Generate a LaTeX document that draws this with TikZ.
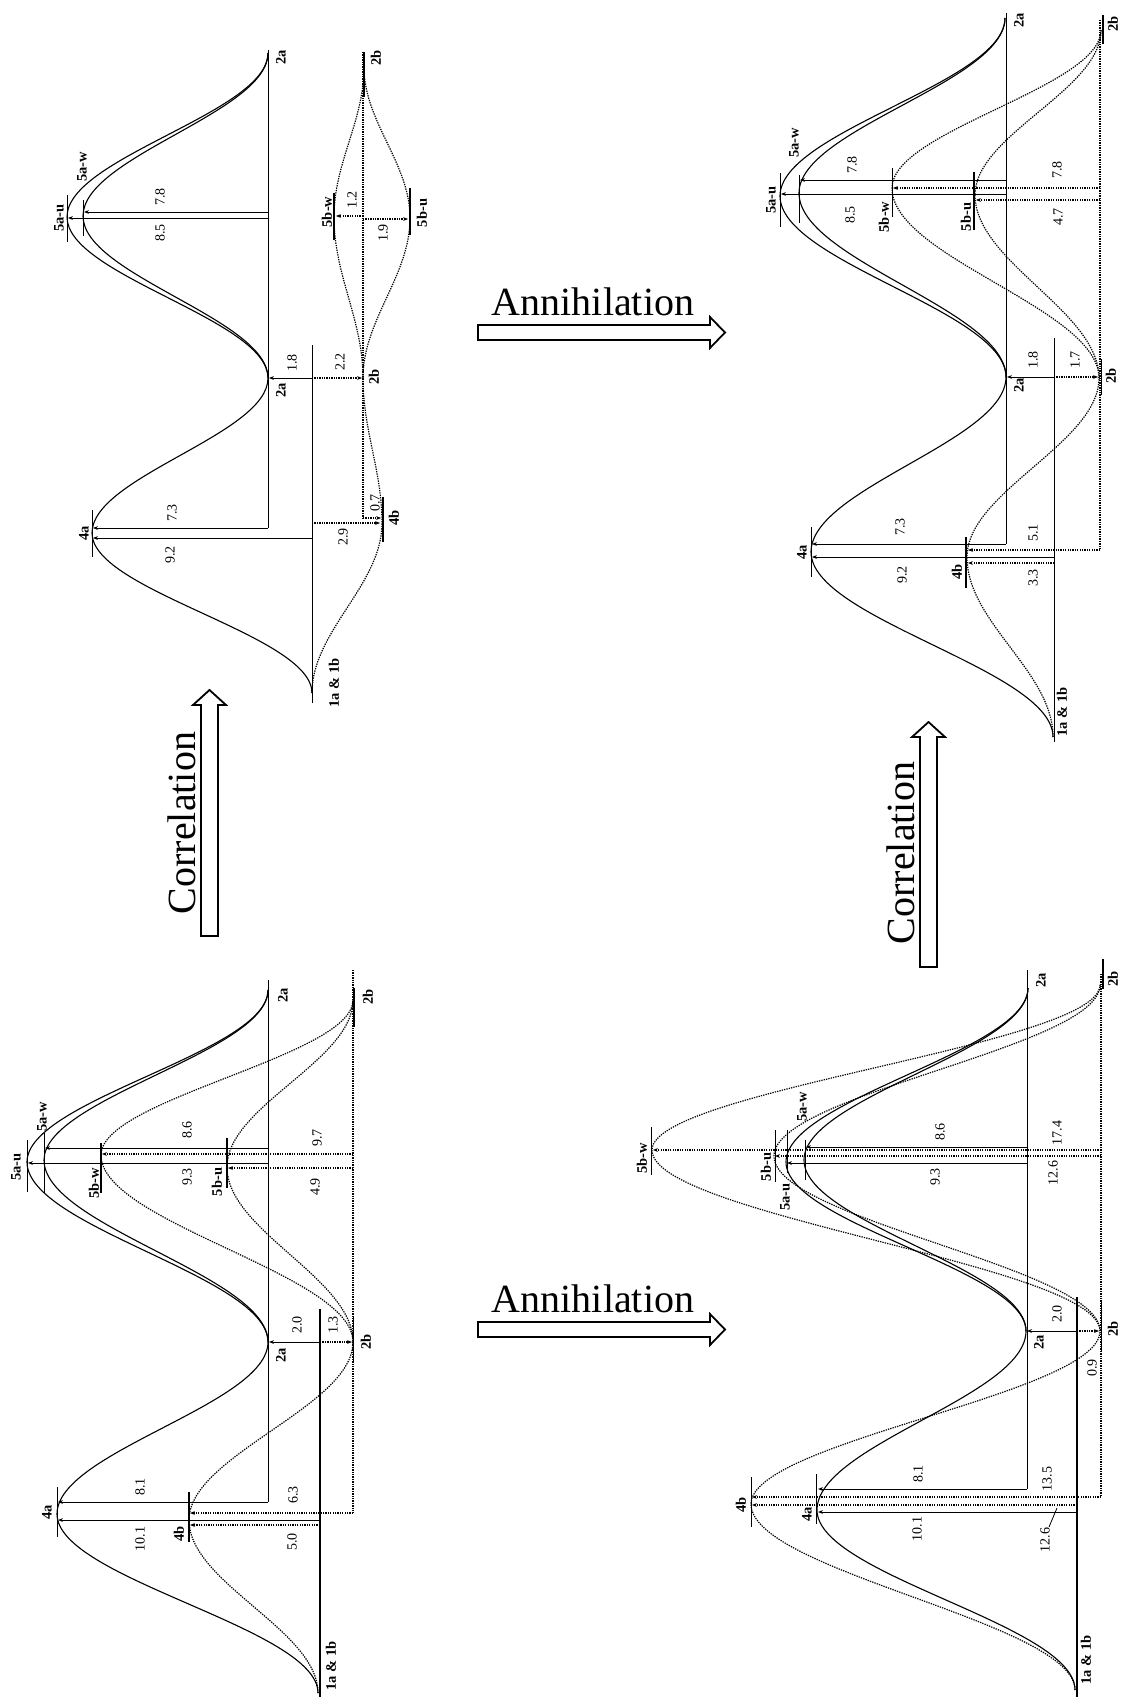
\documentclass[tikz,border=0pt]{standalone}
\usepackage{fontspec}
\setmainfont{Liberation Serif}
\usetikzlibrary{calc,arrows.meta}

\tikzset{
  % half-cosine step between two stationary points (vertical tangents at both ends)
  wave/.style 2 args={insert path={.. controls ($(#1)!0.364!(#1|-#2)$) and ($(#2)!0.364!(#2|-#1)$) .. (#2)}},
  pes/.style={line width=1.1pt},
  pesb/.style={line width=1.2pt, dash pattern=on 1.3pt off 1.1pt},
  ref/.style={line width=1pt},
  refb/.style={line width=1.2pt, dash pattern=on 1.3pt off 1.1pt},
  gap/.style={line width=0.9pt, -{Stealth[length=5pt,width=3.8pt]}},
  gapb/.style={gap, line width=1.1pt, dash pattern=on 1.3pt off 1.1pt},
  lvl/.style={line width=1pt},
  lvlb/.style={line width=1.8pt},
  lab/.style={font=\bfseries\fontsize{14.5}{14.5}\selectfont, rotate=90, inner sep=0pt},
  num/.style={font=\fontsize{14}{14}\selectfont, rotate=90, inner sep=0pt},
  big/.style={font=\fontsize{40}{40}\selectfont, inner sep=0pt},
  block/.style={line width=1.8pt, line join=miter},
}

\begin{document}
\begin{tikzpicture}[x=1pt,y=-1pt]
\fill[white] (0,0) rectangle (1120,1697);
\useasboundingbox (0,0) rectangle (1120,1697);

% ---------------- transformation arrows ----------------
\draw[block] (478,325) -- (710,325) -- (710,317) -- (725,332.5) -- (710,348) -- (710,340) -- (478,340) -- cycle;
\node[big, anchor=base] (annU) at (593,315) {Annihilation};
\draw[block] (478,1322) -- (710,1322) -- (710,1314) -- (725,1329.5) -- (710,1345) -- (710,1337) -- (478,1337) -- cycle;
\node[big, anchor=base] (annL) at (593,1312) {Annihilation};
\draw[block] (201,936) -- (201,705) -- (193,705) -- (209.5,690) -- (226,705) -- (218,705) -- (218,936) -- cycle;
\node[big, rotate=90, anchor=base] (corU) at (195,823) {Correlation};
\draw[block] (920,967) -- (920,737) -- (912,737) -- (928.5,722) -- (945,737) -- (937,737) -- (937,967) -- cycle;
\node[big, rotate=90, anchor=base] (corL) at (914,853) {Correlation};

% ================= top-left profile =================
\coordinate (tls) at (312,693);
\coordinate (tl4a) at (92,533);
\coordinate (tl2a) at (268,378);
\coordinate (tl5au) at (67,217);
\coordinate (tl5aw) at (83,216);
\coordinate (tle2a) at (268,53);
\coordinate (tl4b) at (382,523);
\coordinate (tl2b) at (363,378);
\coordinate (tl5bw) at (334,217);
\coordinate (tl5bu) at (410,218);
\coordinate (tle2b) at (364,67);
\draw[pes] (tls) [wave={tls}{tl4a}] [wave={tl4a}{tl2a}] [wave={tl2a}{tl5au}] [wave={tl5au}{tle2a}];
\draw[pes] (tl2a) [wave={tl2a}{tl5aw}] [wave={tl5aw}{tle2a}];
\draw[pesb] (tls) [wave={tls}{tl4b}] [wave={tl4b}{tl2b}] [wave={tl2b}{tl5bw}] [wave={tl5bw}{tle2b}];
\draw[pesb] (tl2b) [wave={tl2b}{tl5bu}] [wave={tl5bu}{tle2b}];
\draw[ref] (268,50) -- (268,528);
\draw[gap] (268,528) -- (93,528);
\draw[gap] (268,212) -- (84,212);
\draw[gap] (268,218) -- (68,218);
\draw[ref] (312,703) -- (312,345);
\draw[gap] (312,538) -- (93,538);
\draw[gap] (312,378) -- (269,378);
\draw[gapb] (312,378) -- (362,378);
\draw[gapb] (312,523) -- (380,523);
\draw[refb] (363,52) -- (363,518);
\draw[gapb] (363,518) -- (381,518);
\draw[gapb] (363,216) -- (336,216);
\draw[gapb] (363,219) -- (408,219);
\draw[lvl] (92,510) -- (92,557);
\draw[lvl] (67,195) -- (67,242);
\draw[lvl, line width=0.7pt] (83,200) -- (83,236);
\draw[lvlb] (383,497) -- (383,542);
\draw[lvlb] (334,193) -- (334,240);
\draw[lvlb] (410,188) -- (410,235);
\draw[lvlb] (364,52) -- (364,97);
\node[lab] (tlL1) at (334,683) {1a \& 1b};
\node[lab] (tlL2) at (84,533) {4a};
\node[lab] (tlL3) at (281,390) {2a};
\node[lab] (tlL4) at (59,218) {5a-u};
\node[lab] (tlL5) at (82,167) {5a-w};
\node[lab] (tlL6) at (394,518) {4b};
\node[lab] (tlL7) at (374,377) {2b};
\node[lab] (tlL8) at (281,57) {2a};
\node[lab] (tlL9) at (376,58) {2b};
\node[lab] (tlL10) at (327,212) {5b-w};
\node[lab] (tlL11) at (422,213) {5b-u};
\node[num] (tlN1) at (172,513) {7.3};
\node[num] (tlN2) at (170,555) {9.2};
\node[num] (tlN3) at (160,197) {7.8};
\node[num] (tlN4) at (160,233) {8.5};
\node[num] (tlN5) at (292,363) {1.8};
\node[num] (tlN6) at (340,362) {2.2};
\node[num] (tlN7) at (343,537) {2.9};
\node[num] (tlN8) at (375,503) {0.7};
\node[num] (tlN9) at (352,200) {1.2};
\node[num] (tlN10) at (383,233) {1.9};

% ================= top-right profile =================
\coordinate (trs) at (1053,737);
\coordinate (tr4a) at (811,552);
\coordinate (tr2a) at (1006,377);
\coordinate (tr5au) at (780,196);
\coordinate (tr5aw) at (799,193);
\coordinate (tre2a) at (1005,18);
\coordinate (tr4b) at (967,557);
\coordinate (tr2b) at (1099,378);
\coordinate (tr5bw) at (892,188);
\coordinate (tr5bu) at (975,195);
\coordinate (tre2b) at (1101,30);
\draw[pes] (trs) [wave={trs}{tr4a}] [wave={tr4a}{tr2a}] [wave={tr2a}{tr5au}] [wave={tr5au}{tre2a}];
\draw[pes] (tr2a) [wave={tr2a}{tr5aw}] [wave={tr5aw}{tre2a}];
\draw[pesb] (trs) [wave={trs}{tr4b}] [wave={tr4b}{tr2b}] [wave={tr2b}{tr5bw}] [wave={tr5bw}{tre2b}];
\draw[pesb] (tr2b) [wave={tr2b}{tr5bu}] [wave={tr5bu}{tre2b}];
\draw[ref] (1006,13) -- (1006,544);
\draw[gap] (1006,544) -- (812,544);
\draw[gap] (1006,180) -- (800,180);
\draw[gap] (1006,194) -- (781,194);
\draw[ref] (1054,338) -- (1054,742);
\draw[gap] (1054,557) -- (812,557);
\draw[gapb] (1054,563) -- (968,563);
\draw[gap] (1054,377) -- (1007,377);
\draw[gapb] (1054,377) -- (1098,377);
\draw[refb] (1100,20) -- (1100,550);
\draw[gapb] (1100,550) -- (968,550);
\draw[gapb] (1100,188) -- (893,188);
\draw[gapb] (1100,200) -- (976,200);
\draw[lvl] (811,527) -- (811,577);
\draw[lvlb] (966,537) -- (966,588);
\draw[lvl] (780,173) -- (780,227);
\draw[lvl] (799,175) -- (799,223);
\draw[lvl] (892,168) -- (892,217);
\draw[lvlb] (974,172) -- (974,230);
\draw[lvl] (1101,359) -- (1101,395);
\draw[lvlb] (1103,15) -- (1103,44);
\node[lab] (trL1) at (1062,712) {1a \& 1b};
\node[lab] (trL2) at (802,552) {4a};
\node[lab] (trL3) at (957,572) {4b};
\node[lab] (trL4) at (1019,385) {2a};
\node[lab] (trL5) at (1111,376) {2b};
\node[lab] (trL6) at (771,200) {5a-u};
\node[lab] (trL7) at (794,143) {5a-w};
\node[lab] (trL8) at (884,217) {5b-w};
\node[lab] (trL9) at (966,217) {5b-u};
\node[lab] (trL10) at (1019,20) {2a};
\node[lab] (trL11) at (1113,24) {2b};
\node[num] (trN1) at (900,527) {7.3};
\node[num] (trN2) at (1033,533) {5.1};
\node[num] (trN3) at (902,575) {9.2};
\node[num] (trN4) at (1033,578) {3.3};
\node[num] (trN5) at (1033,360) {1.8};
\node[num] (trN6) at (1075,360) {1.7};
\node[num] (trN7) at (852,165) {7.8};
\node[num] (trN8) at (850,215) {8.5};
\node[num] (trN9) at (1057,170) {7.8};
\node[num] (trN10) at (1058,217) {4.7};

% ================= bottom-left profile =================
\coordinate (bls) at (318,1693);
\coordinate (bl4a) at (57,1514);
\coordinate (bl2a) at (268,1342);
\coordinate (bl5au) at (27,1162);
\coordinate (bl5aw) at (44,1160);
\coordinate (ble2a) at (268,990);
\coordinate (bl4b) at (189,1520);
\coordinate (bl2b) at (353,1342);
\coordinate (bl5bw) at (101,1155);
\coordinate (bl5bu) at (227,1167);
\coordinate (ble2b) at (353,1000);
\draw[pes] (bls) [wave={bls}{bl4a}] [wave={bl4a}{bl2a}] [wave={bl2a}{bl5au}] [wave={bl5au}{ble2a}];
\draw[pes] (bl2a) [wave={bl2a}{bl5aw}] [wave={bl5aw}{ble2a}];
\draw[pesb] (bls) [wave={bls}{bl4b}] [wave={bl4b}{bl2b}] [wave={bl2b}{bl5bw}] [wave={bl5bw}{ble2b}];
\draw[pesb] (bl2b) [wave={bl2b}{bl5bu}] [wave={bl5bu}{ble2b}];
\draw[ref] (268,980) -- (268,1502);
\draw[gap] (268,1502) -- (58,1502);
\draw[gap] (268,1148) -- (45,1148);
\draw[gap] (268,1163) -- (28,1163);
\draw[ref, line width=1.5pt] (320,1697) -- (320,1309);
\draw[gap] (320,1520) -- (58,1520);
\draw[gapb] (320,1525) -- (190,1525);
\draw[gap] (320,1342) -- (269,1342);
\draw[gapb] (320,1342) -- (352,1342);
\draw[refb] (353,970) -- (353,1513);
\draw[gapb] (353,1513) -- (190,1513);
\draw[gapb] (353,1154) -- (102,1154);
\draw[gapb] (353,1168) -- (228,1168);
\draw[lvl] (57,1487) -- (57,1537);
\draw[lvlb] (189,1492) -- (189,1542);
\draw[lvl] (27,1140) -- (27,1192);
\draw[lvl] (44,1133) -- (44,1193);
\draw[lvlb] (101,1143) -- (101,1193);
\draw[lvlb] (227,1138) -- (227,1188);
\draw[lvl] (353,1317) -- (353,1363);
\draw[lvlb] (354,988) -- (354,1027);
\node[lab] (blL1) at (331,1666) {1a \& 1b};
\node[lab] (blL2) at (47,1512) {4a};
\node[lab] (blL3) at (179,1534) {4b};
\node[lab] (blL4) at (281,1355) {2a};
\node[lab] (blL5) at (366,1342) {2b};
\node[lab] (blL6) at (16,1167) {5a-u};
\node[lab] (blL7) at (42,1117) {5a-w};
\node[lab] (blL8) at (94,1183) {5b-w};
\node[lab] (blL9) at (217,1182) {5b-u};
\node[lab] (blL10) at (283,995) {2a};
\node[lab] (blL11) at (368,997) {2b};
\node[num] (blN1) at (140,1487) {8.1};
\node[num] (blN2) at (140,1539) {10.1};
\node[num] (blN3) at (293,1495) {6.3};
\node[num] (blN4) at (292,1542) {5.0};
\node[num] (blN5) at (297,1325) {2.0};
\node[num] (blN6) at (333,1325) {1.3};
\node[num] (blN7) at (187,1130) {8.6};
\node[num] (blN8) at (187,1177) {9.3};
\node[num] (blN9) at (317,1138) {9.7};
\node[num] (blN10) at (315,1187) {4.9};

% ================= bottom-right profile =================
\coordinate (brs) at (1075,1690);
\coordinate (br4a) at (817,1510);
\coordinate (br2a) at (1026,1331);
\coordinate (br5au) at (786,1162);
\coordinate (br5aw) at (804,1160);
\coordinate (bre2a) at (1028,988);
\coordinate (br4b) at (751,1504);
\coordinate (br2b) at (1100,1331);
\coordinate (br5bw) at (652,1150);
\coordinate (br5bu) at (774,1156);
\coordinate (bre2b) at (1100,985);
\draw[pes] (brs) [wave={brs}{br4a}] [wave={br4a}{br2a}] [wave={br2a}{br5au}] [wave={br5au}{bre2a}];
\draw[pes] (br2a) [wave={br2a}{br5aw}] [wave={br5aw}{bre2a}];
\draw[pesb] (brs) [wave={brs}{br4b}] [wave={br4b}{br2b}] [wave={br2b}{br5bw}] [wave={br5bw}{bre2b}];
\draw[pesb] (br2b) [wave={br2b}{br5bu}] [wave={br5bu}{bre2b}];
\draw[ref] (1027,970) -- (1027,1489);
\draw[gap] (1027,1489) -- (818,1489);
\draw[gap] (1027,1147) -- (806,1147);
\draw[gap] (1027,1163) -- (787,1163);
\draw[ref, line width=1.3pt] (1077,1697) -- (1077,1297);
\draw[gap] (1077,1512) -- (818,1512);
\draw[gapb] (1077,1505) -- (752,1505);
\draw[gap] (1077,1331) -- (1027,1331);
\draw[gapb] (1077,1331) -- (1099,1331);
\draw[refb] (1101,974) -- (1101,1497);
\draw[gapb] (1101,1497) -- (752,1497);
\draw[gapb] (1101,1150) -- (653,1150);
\draw[gapb] (1101,1156) -- (775,1156);
\draw[line width=0.8pt] (1049,1527) -- (1057,1508);
\draw[lvl] (816,1474) -- (816,1524);
\draw[lvl] (751,1477) -- (751,1527);
\draw[lvl] (651,1127) -- (651,1175);
\draw[lvl] (775,1130) -- (775,1182);
\draw[lvl] (787,1130) -- (787,1173);
\draw[lvl] (805,1140) -- (805,1180);
\draw[lvl] (1101,1302) -- (1101,1351);
\draw[lvlb] (1103,959) -- (1103,989);
\node[lab] (brL1) at (1086,1660) {1a \& 1b};
\node[lab] (brL2) at (807,1514) {4a};
\node[lab] (brL3) at (741,1505) {4b};
\node[lab] (brL4) at (1039,1342) {2a};
\node[lab] (brL5) at (1113,1329) {2b};
\node[lab] (brL6) at (642,1158) {5b-w};
\node[lab] (brL7) at (766,1167) {5b-u};
\node[lab] (brL8) at (785,1197) {5a-u};
\node[lab] (brL9) at (802,1107) {5a-w};
\node[lab] (brL10) at (1041,980) {2a};
\node[lab] (brL11) at (1113,979) {2b};
\node[num] (brN1) at (918,1474) {8.1};
\node[num] (brN2) at (1047,1479) {13.5};
\node[num] (brN3) at (917,1529) {10.1};
\node[num] (brN4) at (1045,1540) {12.6};
\node[num] (brN5) at (1057,1314) {2.0};
\node[num] (brN6) at (1092,1368) {0.9};
\node[num] (brN7) at (940,1132) {8.6};
\node[num] (brN8) at (1057,1133) {17.4};
\node[num] (brN9) at (935,1177) {9.3};
\node[num] (brN10) at (1053,1173) {12.6};
\end{tikzpicture}
\end{document}
